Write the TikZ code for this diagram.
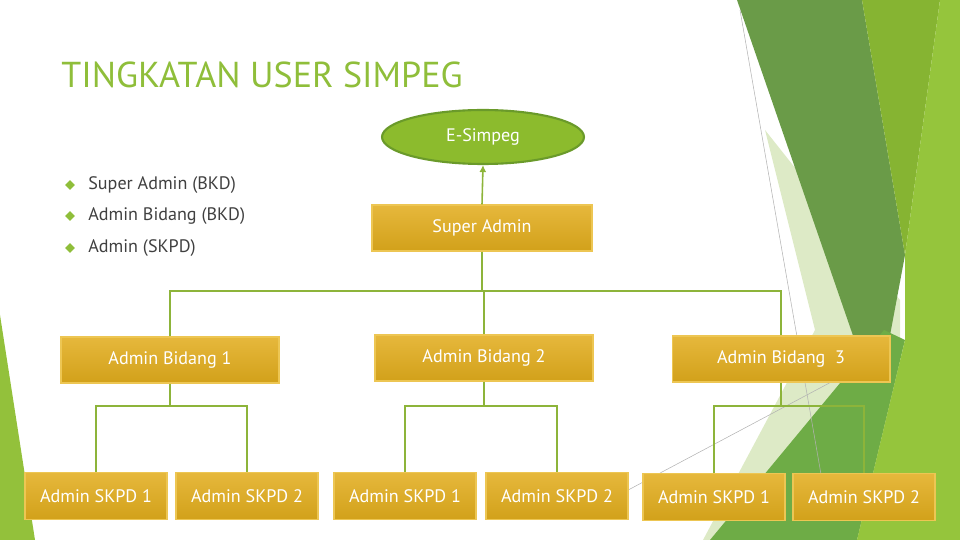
\documentclass[tikz,border=0pt]{standalone}
\usepackage{fontspec}
\setmainfont{PT Sans}
\usetikzlibrary{shapes.geometric,arrows.meta}
\definecolor{titlegreen}{HTML}{8FBE3A}
\definecolor{linegreen}{HTML}{8DB43A}
\definecolor{ovalfill}{HTML}{8CBB2D}
\definecolor{ovaldraw}{HTML}{6A9A2A}
\definecolor{goldtop}{HTML}{E6B83C}
\definecolor{goldbot}{HTML}{D2A11A}
\definecolor{goldedge}{HTML}{EDC653}
\definecolor{bullettext}{HTML}{404040}
\definecolor{facetpale}{HTML}{DDEAC6}
\definecolor{facetdark}{HTML}{6A9B48}
\definecolor{facetmid}{HTML}{86B432}
\definecolor{facetbright}{HTML}{95C53C}
\definecolor{facetlow}{HTML}{6EAC46}
\definecolor{facetleft}{HTML}{93C13B}
\begin{document}
\begin{tikzpicture}[x=0.02cm, y=-0.02cm, font=\fontsize{10.3}{12}\selectfont,
    box/.style={top color=goldtop, bottom color=goldbot, draw=goldedge, line width=0.6pt, text=white, inner sep=0pt, minimum height=0.92cm},
    bidang/.style={box, minimum width=4.36cm},
    skpd/.style={box, minimum width=2.84cm, minimum height=0.94cm},
    conn/.style={draw=linegreen, line width=0.9pt},
    bulletmark/.style={diamond, fill=titlegreen, inner sep=0pt, minimum size=0.2cm},
    bullettxt/.style={anchor=west, text=bullettext, inner sep=0pt}]
    \useasboundingbox (0,0) rectangle (960,540);

    % facet background
    \fill[facetleft] (0,315) -- (35,540) -- (0,540) -- cycle;
    \fill[facetpale] (765,130) -- (815,330) -- (703,540) -- (900,540) -- (900,300) -- cycle;
    \fill[facetdark] (737,0) -- (862,0) -- (905,255) -- (877,405) -- cycle;
    \fill[facetmid] (862,0) -- (940,0) -- (905,255) -- cycle;
    \fill[facetlow] (710,540) -- (884,330) -- (905,340) -- (857,540) -- cycle;
    \fill[facetbright] (940,0) -- (960,0) -- (960,540) -- (857,540) -- (905,340) -- (905,255) -- cycle;
    \draw[gray!60, line width=0.3pt] (740,10) -- (822,480);
    \draw[gray!60, line width=0.3pt] (600,505) -- (835,380);

    % title and list
    \node[anchor=west, inner sep=0pt, text=titlegreen, font=\fontsize{20.5}{24}\selectfont] (title) at (61,75) {TINGKATAN USER SIMPEG};
    \node[bulletmark] (m1) at (70,185) {};
    \node[bulletmark] (m2) at (70,216) {};
    \node[bulletmark] (m3) at (70,248) {};
    \node[bullettxt] (t1) at (88,185) {Super Admin (BKD)};
    \node[bullettxt] (t2) at (88,216) {Admin Bidang (BKD)};
    \node[bullettxt] (t3) at (88,248) {Admin (SKPD)};

    % chart
    \node[ellipse, fill=ovalfill, draw=ovaldraw, line width=1.2pt, text=white, minimum width=4.04cm, minimum height=1.08cm, inner sep=0pt] (esimpeg) at (483,137) {E-Simpeg};
    \node[box, minimum width=4.4cm] (super) at (482,228) {Super Admin};

    \node[bidang] (bid1) at (170,360) {Admin Bidang 1};
    \node[bidang] (bid2) at (484,358) {Admin Bidang 2};
    \node[bidang] (bid3) at (781,359) {Admin Bidang~~3};

    \node[skpd] (skpd11) at (96,496) {Admin SKPD 1};
    \node[skpd] (skpd12) at (247,496) {Admin SKPD 2};
    \node[skpd] (skpd21) at (405,496) {Admin SKPD 1};
    \node[skpd] (skpd22) at (557,496) {Admin SKPD 2};
    \node[skpd] (skpd31) at (714,497) {Admin SKPD 1};
    \node[skpd] (skpd32) at (864,497) {Admin SKPD 2};

    \coordinate (busa) at (0,291);
    \coordinate (busb) at (0,406);

    \draw[conn, -{Latex[length=4pt, width=4pt]}] (super.north) -- (esimpeg.south);
    \draw[conn] (super.south) -- (super.south |- busa);
    \draw[conn] (bid1.north) |- (bid3.north |- busa) -- (bid3.north);
    \draw[conn] (bid2.north) -- (bid2.north |- busa);

    \draw[conn] (bid1.south) -- (bid1.south |- busb);
    \draw[conn] (skpd11.north) |- (skpd12.north |- busb) -- (skpd12.north);
    \draw[conn] (bid2.south) -- (bid2.south |- busb);
    \draw[conn] (skpd21.north) |- (skpd22.north |- busb) -- (skpd22.north);
    \draw[conn] (bid3.south) -- (bid3.south |- busb);
    \draw[conn] (skpd31.north) |- (skpd32.north |- busb) -- (skpd32.north);
\end{tikzpicture}
\end{document}
